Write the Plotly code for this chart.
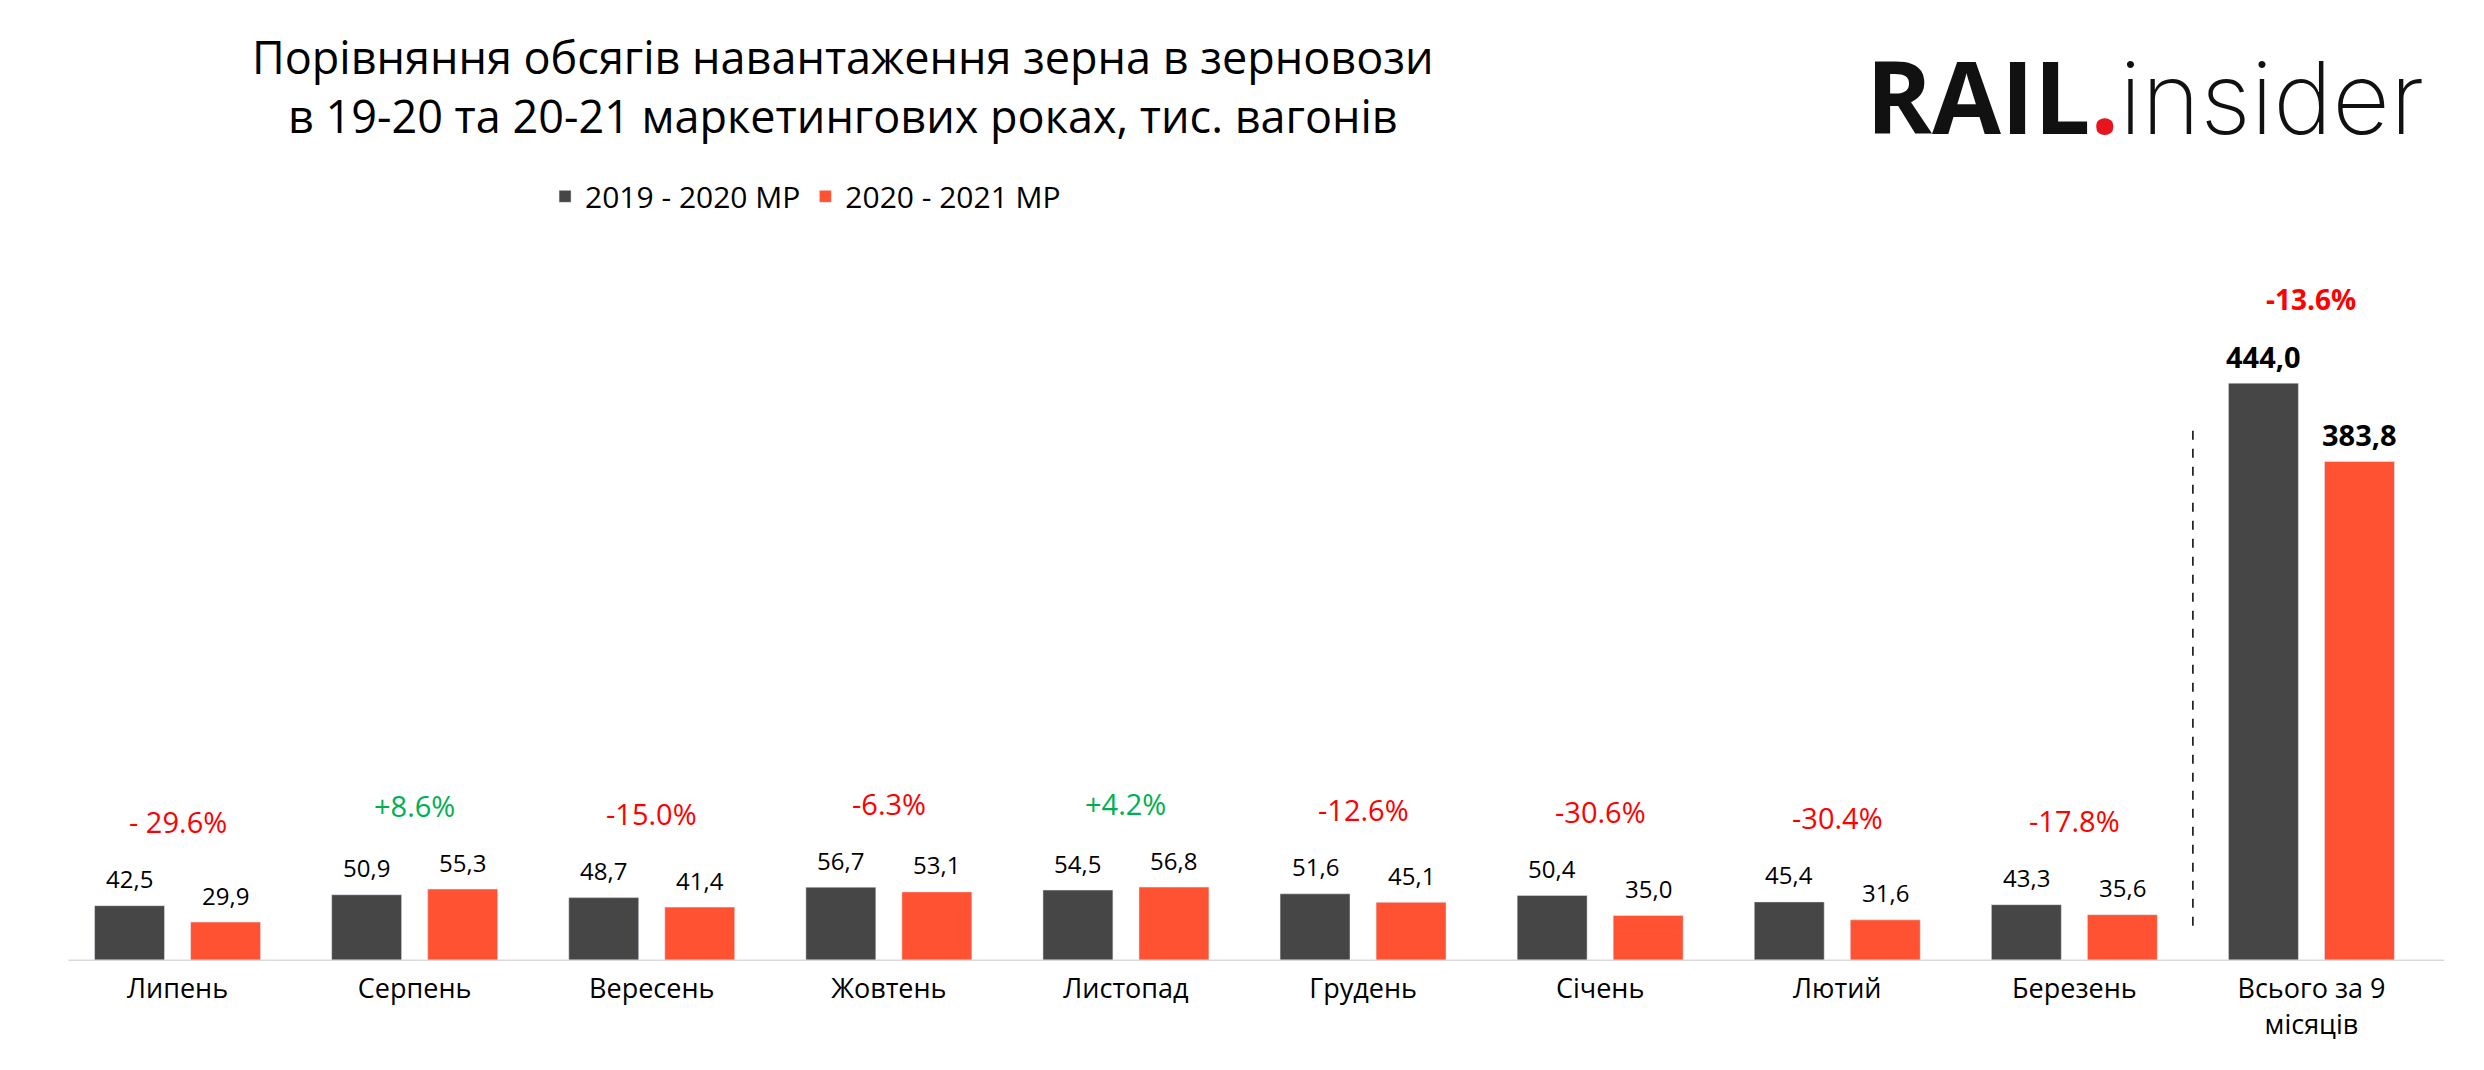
# Порівняння навантаження зерна в зерновози, 19-20 vs 20-21 МР
import plotly.graph_objects as go

# Дані (тис. вагонів)
months = ["Липень", "Серпень", "Вересень", "Жовтень", "Листопад",
          "Грудень", "Січень", "Лютий", "Березень", "Всього за 9<br>місяців"]
mr_2019_2020 = [42.5, 50.9, 48.7, 56.7, 54.5, 51.6, 50.4, 45.4, 43.3, 444.0]
mr_2020_2021 = [29.9, 55.3, 41.4, 53.1, 56.8, 45.1, 35.0, 31.6, 35.6, 383.8]
changes = ["- 29.6%", "+8.6%", "-15.0%", "-6.3%", "+4.2%",
           "-12.6%", "-30.6%", "-30.4%", "-17.8%", "-13.6%"]

DARK = "#464646"
RED = "#FF5233"
FONT = "Open Sans"

BAR_W = 0.295
GAP = 0.11
idx = list(range(len(months)))
last = len(months) - 1

fig = go.Figure()
fig.add_trace(go.Bar(x=idx, y=mr_2019_2020, name="2019 - 2020 МР",
                     marker_color=DARK, width=BAR_W, offset=-GAP / 2 - BAR_W))
fig.add_trace(go.Bar(x=idx, y=mr_2020_2021, name="2020 - 2021 МР",
                     marker_color=RED, width=BAR_W, offset=GAP / 2))

def fmt(v):
    return f"{v:.1f}".replace(".", ",")

# підписи значень над стовпчиками
shift = GAP / 2 + BAR_W / 2
for i in idx:
    for sign, vals in ((-1, mr_2019_2020), (1, mr_2020_2021)):
        txt = fmt(vals[i])
        if i == last:
            txt = f"<b>{txt}</b>"
        fig.add_annotation(x=i + sign * shift, y=vals[i], text=txt,
                           showarrow=False, yanchor="middle", yshift=27,
                           font=dict(family=FONT, size=29 if i == last else 24,
                                     color="black"))
    # відсоткова зміна
    ch = changes[i]
    col = "#FF0000" if ch.startswith("-") else "#00B050"
    if i == last:
        ch = f"<b>{ch}</b>"
    fig.add_annotation(x=i, y=max(mr_2019_2020[i], mr_2020_2021[i]), text=ch,
                       showarrow=False, yanchor="middle", yshift=84,
                       font=dict(family=FONT, size=28 if i == last else 29, color=col))

# пунктир перед підсумком
fig.add_shape(type="line", x0=last - 0.5, x1=last - 0.5, y0=27, y1=410,
              line=dict(color="black", width=1.5, dash="dash"))

# заголовок
fig.add_annotation(xref="paper", yref="paper", x=(835 - 51) / 2371, y=1.236,
                   xanchor="center", yanchor="middle",
                   text="Порівняння обсягів навантаження зерна в зерновози<br>"
                        "в 19-20 та 20-21 маркетингових роках, тис. вагонів",
                   showarrow=False, font=dict(family=FONT, size=45, color="black"))

# логотип
fig.add_annotation(xref="paper", yref="paper", x=(2418 - 51) / 2371, y=1.223,
                   xanchor="right", yanchor="middle", showarrow=False,
                   text="<b>RAIL</b><span style='color:#E8141B'><b>.</b></span>"
                        "<span style='font-family:Inter;font-weight:200'>insider</span>",
                   font=dict(family=FONT, size=100, color="#111111"))

fig.update_layout(
    width=2484, height=1070,
    margin=dict(l=51, r=62, t=245, b=117),
    paper_bgcolor="white", plot_bgcolor="white",
    font=dict(family=FONT, size=24, color="black"),
    showlegend=True,
    legend=dict(orientation="h", x=0.205, y=1.08, xanchor="left", yanchor="middle",
                font=dict(family=FONT, size=30, color="black")),
    xaxis=dict(range=[-0.5, last + 0.5], tickvals=idx, ticktext=months,
               showgrid=False, zeroline=False, showline=False,
               ticks="outside", ticklen=4, tickcolor="rgba(0,0,0,0)",
               tickfont=dict(family=FONT, size=27, color="black")),
    yaxis=dict(range=[0, 544], visible=False, showgrid=False),
)

# вісь X
fig.add_shape(type="line", xref="paper", yref="y", x0=0.004, x1=1.006, y0=0, y1=0,
              line=dict(color="#D9D9D9", width=3))

fig.write_html("out.html")
